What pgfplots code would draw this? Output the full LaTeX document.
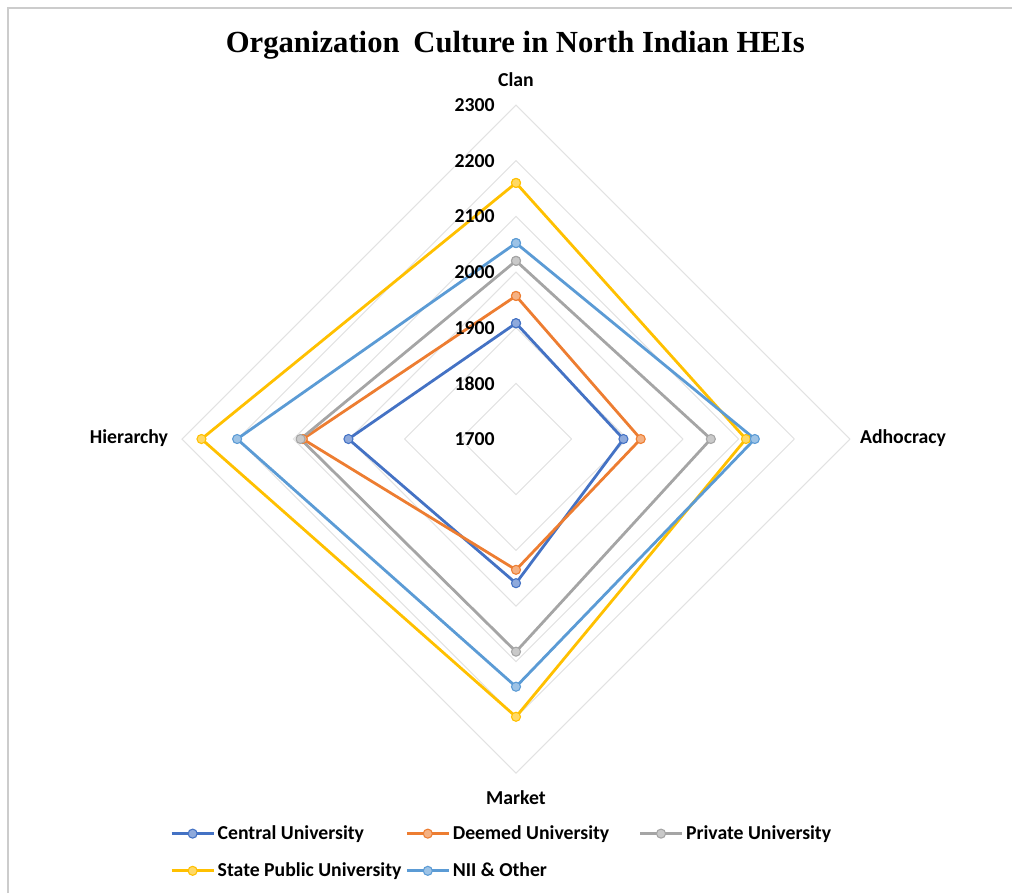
\documentclass[border=0pt]{standalone}
\usepackage{fontspec}
\setmainfont{Carlito}
\newfontfamily\titlefont{Liberation Serif}
\usepackage{pgfplots}
\pgfplotsset{compat=1.18}
\usepgfplotslibrary{polar}
\definecolor{cCen}{HTML}{4472C4}
\definecolor{cCenL}{HTML}{8FAADC}
\definecolor{cDee}{HTML}{ED7D31}
\definecolor{cDeeL}{HTML}{F4B183}
\definecolor{cPri}{HTML}{A5A5A5}
\definecolor{cPriL}{HTML}{C9C9C9}
\definecolor{cSta}{HTML}{FFC000}
\definecolor{cStaL}{HTML}{FFD966}
\definecolor{cNii}{HTML}{5B9BD5}
\definecolor{cNiiL}{HTML}{9DC3E6}
\definecolor{gridc}{HTML}{E2E2E2}
\newcommand\lblfont{\bfseries\fontsize{14.8}{17}\selectfont}
\begin{document}
\begin{tikzpicture}
\useasboundingbox (0,0) rectangle (759pt,-669.75pt);
\draw[color=black!20, line width=1.2pt] (6pt,-669.75pt) -- (6pt,-6pt) -- (759pt,-6pt);
\node[font=\titlefont\bfseries\fontsize{23}{27}\selectfont] at (386.5pt,-34pt) {Organization\hspace{0.2em} Culture in North Indian HEIs};
\node[font=\lblfont] at (387pt,-60pt) {Clan};
\node[font=\lblfont] at (677.25pt,-328.5pt) {Adhocracy};
\node[font=\lblfont] at (387pt,-598.5pt) {Market};
\node[font=\lblfont] at (96.75pt,-328.5pt) {Hierarchy};
\begin{polaraxis}[
  at={(387pt,-329.25pt)}, anchor=center,
  scale only axis, width=501pt, height=501pt,
  hide axis,
  xmin=0, xmax=360, ymin=0, ymax=600,
  y filter/.expression={y-1700},
  clip=false,
  legend columns=3,
  legend cell align=left,
  legend style={draw=none, fill=none,
    at={(axis description cs:-0.018,-0.0745)}, anchor=north west,
    font=\lblfont, inner sep=0pt, column sep=0pt, row sep=12pt,
    /tikz/every even column/.style={column sep=1pt}},
  legend image code/.code={\draw[mark repeat=2,mark phase=2,#1] plot coordinates {(0pt,0pt)(15.75pt,0pt)(31.5pt,0pt)};},
]
% grid diamonds
\addplot[gridc, line width=0.8pt, no markers, forget plot] coordinates {(0,1800)(90,1800)(180,1800)(270,1800)(360,1800)};
\addplot[gridc, line width=0.8pt, no markers, forget plot] coordinates {(0,1900)(90,1900)(180,1900)(270,1900)(360,1900)};
\addplot[gridc, line width=0.8pt, no markers, forget plot] coordinates {(0,2000)(90,2000)(180,2000)(270,2000)(360,2000)};
\addplot[gridc, line width=0.8pt, no markers, forget plot] coordinates {(0,2100)(90,2100)(180,2100)(270,2100)(360,2100)};
\addplot[gridc, line width=0.8pt, no markers, forget plot] coordinates {(0,2200)(90,2200)(180,2200)(270,2200)(360,2200)};
\addplot[gridc, line width=0.8pt, no markers, forget plot] coordinates {(0,2300)(90,2300)(180,2300)(270,2300)(360,2300)};
% series: Clan=90, Adhocracy=0, Market=270, Hierarchy=180
\addplot[cCen, line width=2.1pt, mark=*, mark size=3.4pt, mark options={fill=cCenL, draw=cCen, line width=0.8pt}]
  coordinates {(90,1908)(0,1893)(270,1959)(180,2001)(90,1908)};
\addlegendentry{Central University}
\addplot[cDee, line width=2.1pt, mark=*, mark size=3.4pt, mark options={fill=cDeeL, draw=cDee, line width=0.8pt}]
  coordinates {(90,1957)(0,1924)(270,1935)(180,2083)(90,1957)};
\addlegendentry{Deemed University\rule{19pt}{0pt}}
\addplot[cPri, line width=2.1pt, mark=*, mark size=3.4pt, mark options={fill=cPriL, draw=cPri, line width=0.8pt}]
  coordinates {(90,2020)(0,2050)(270,2082)(180,2087)(90,2020)};
\addlegendentry{Private University}
\addplot[cSta, line width=2.1pt, mark=*, mark size=3.4pt, mark options={fill=cStaL, draw=cSta, line width=0.8pt}]
  coordinates {(90,2160)(0,2113)(270,2199)(180,2265)(90,2160)};
\addlegendentry{State Public University}
\addplot[cNii, line width=2.1pt, mark=*, mark size=3.4pt, mark options={fill=cNiiL, draw=cNii, line width=0.8pt}]
  coordinates {(90,2052)(0,2129)(270,2145)(180,2201)(90,2052)};
\addlegendentry{NII \& Other}
% radial tick labels
\node[anchor=east, inner sep=0pt, xshift=-15.75pt, font=\lblfont] at (axis cs:90,0) {1700};
\node[anchor=east, inner sep=0pt, xshift=-15.75pt, font=\lblfont] at (axis cs:90,100) {1800};
\node[anchor=east, inner sep=0pt, xshift=-15.75pt, font=\lblfont] at (axis cs:90,200) {1900};
\node[anchor=east, inner sep=0pt, xshift=-15.75pt, font=\lblfont] at (axis cs:90,300) {2000};
\node[anchor=east, inner sep=0pt, xshift=-15.75pt, font=\lblfont] at (axis cs:90,400) {2100};
\node[anchor=east, inner sep=0pt, xshift=-15.75pt, font=\lblfont] at (axis cs:90,500) {2200};
\node[anchor=east, inner sep=0pt, xshift=-15.75pt, font=\lblfont] at (axis cs:90,600) {2300};
\end{polaraxis}
\end{tikzpicture}
\end{document}
